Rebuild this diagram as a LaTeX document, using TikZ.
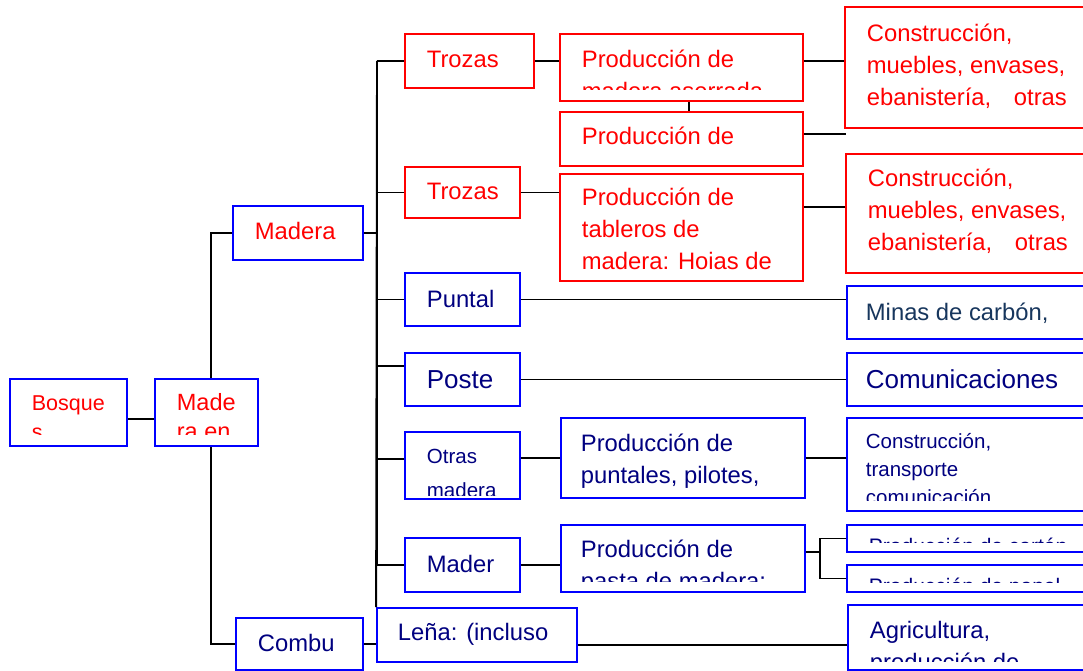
\documentclass[tikz,border=0pt]{standalone}
\usepackage{fontspec}
\setmainfont{Liberation Sans}
\definecolor{boxblue}{RGB}{0,0,255}
\definecolor{boxred}{RGB}{255,0,0}
\definecolor{txnavy}{RGB}{0,0,128}
\definecolor{txslate}{RGB}{23,54,93}
\newcommand{\fA}{\fontsize{23.8}{32}\selectfont}
\newcommand{\fB}{\fontsize{21.5}{29}\selectfont}
\newcommand{\fG}{\fontsize{23.5}{29}\selectfont}
\newcommand{\fC}{\fontsize{26}{32}\selectfont}
\newcommand{\fD}{\fontsize{20.5}{34}\selectfont}
\newcommand{\fE}{\fontsize{20.5}{28}\selectfont}
\newcommand{\fF}{\fontsize{21}{30}\selectfont}
\tikzset{
  lcol/.code={\def\lcol{#1}},
  lfont/.code={\def\lfont{#1}},
  lcut/.code={\def\lcut{#1}},
  lbase/.code={\def\lbase{#1}},
  lpad/.code={\def\lpad{#1}},
  txt/.style={path picture={\begin{scope}
    \clip ([yshift=\lcut]path picture bounding box.south west) rectangle (path picture bounding box.north east);
    \node[anchor=base west,inner sep=0pt,text=\lcol,font=\lfont,draw=none,fill=none,
      minimum width=0pt,minimum height=0pt,path picture={}]
      at ([xshift=\lpad,yshift=-\lbase]path picture bounding box.north west)
      {\begin{tabular}[t]{@{}l@{}}#1\end{tabular}};
    \end{scope}}},
  rbox/.style={draw=boxred,line width=1.8pt,fill=white,inner sep=0pt,
    lcol=boxred,lfont=\fA,lcut=11pt,lbase=32pt,lpad=21pt},
  bbox/.style={draw=boxblue,line width=1.8pt,fill=white,inner sep=0pt,
    lcol=txnavy,lfont=\fA,lcut=11pt,lbase=32pt,lpad=21pt},
  link/.style={black,line width=1.9pt}
}
\begin{document}
\begin{tikzpicture}[x=1pt,y=-1pt]
\useasboundingbox (0,0) rectangle (1083,671);
% left part
\node[bbox,lcol=boxred,lfont=\fB,minimum width=117pt,minimum height=67pt,lbase=31pt,lcut=12pt,txt={Bosque\\s}] (bosq) at (68.5,412.5) {};
\node[bbox,lcol=boxred,minimum width=130pt,minimum height=54pt,lbase=33pt,txt={Madera}] (madera) at (298,233) {};
\node[bbox,minimum width=127pt,minimum height=52pt,lbase=33pt,txt={Combu}] (combu) at (299.5,644) {};
\draw[link] (madera.west) -- ++(-21,0) |- (combu.west);
\node[bbox,lcol=boxred,lfont=\fG,minimum width=103pt,minimum height=67pt,lbase=31pt,lcut=12pt,txt={Made\\ra en}] (maden) at (206.5,412.5) {};
% red branch
\node[rbox,minimum width=129pt,minimum height=54pt,lbase=34pt,txt={Trozas}] (troz1) at (469.5,61) {};
\node[rbox,minimum width=115pt,minimum height=51pt,lbase=32pt,txt={Trozas}] (troz2) at (462.5,192.5) {};
\node[rbox,minimum width=243pt,minimum height=67pt,lbase=34pt,txt={Producción de\\madera aserrada}] (prodas) at (681.5,67.5) {};
\node[rbox,minimum width=243pt,minimum height=54pt,lbase=33pt,txt={Producción de}] (prodch) at (681.5,139) {};
\node[rbox,minimum width=243pt,minimum height=107pt,lbase=31pt,txt={Producción de\\tableros de\\madera: Hoias de}] (prodtab) at (681.5,227.5) {};
\node[rbox,minimum width=250pt,minimum height=121pt,lbase=35pt,txt={Construcción,\\muebles, envases,\\\makebox[200pt][s]{ebanistería, otras}}] (cons1) at (970,67.5) {};
\node[rbox,minimum width=249pt,minimum height=119pt,lbase=32pt,txt={Construcción,\\muebles, envases,\\\makebox[200pt][s]{ebanistería, otras}}] (cons2) at (970.5,213.5) {};
% blue branch
\node[bbox,minimum width=115pt,minimum height=53pt,lbase=34pt,txt={Puntal}] (puntal) at (462.5,299.5) {};
\node[bbox,lcol=txslate,minimum width=248pt,minimum height=53pt,lbase=34pt,lpad=18pt,txt={Minas de carbón,}] (minas) at (971,312.5) {};
\node[bbox,lfont=\fC,minimum width=115pt,minimum height=53pt,lbase=35pt,txt={Poste}] (poste) at (462.5,379.5) {};
\node[bbox,lfont=\fC,minimum width=248pt,minimum height=53pt,lbase=35pt,lpad=18pt,txt={Comunicaciones}] (comun) at (971,379.5) {};
\node[bbox,lfont=\fD,minimum width=115pt,minimum height=67pt,lbase=31pt,lcut=4pt,txt={Otras\\madera}] (otras) at (462.5,465.5) {};
\node[bbox,minimum width=244pt,minimum height=80pt,lbase=33.5pt,lcut=10pt,lpad=19pt,txt={Producción de\\puntales, pilotes,}] (prodpu) at (683,458) {};
\node[bbox,lfont=\fE,minimum width=248pt,minimum height=93pt,lbase=30pt,lpad=18pt,txt={Construcción,\\transporte\\comunicación}] (constr) at (971,464.5) {};
\node[bbox,minimum width=115pt,minimum height=54pt,lbase=34pt,txt={Mader}] (mader) at (462.5,565) {};
\node[bbox,minimum width=244pt,minimum height=67pt,lbase=32pt,lpad=19pt,txt={Producción de\\pasta de madera:}] (prodpa) at (683,558.5) {};
\node[bbox,lfont=\fF,minimum width=248pt,minimum height=27pt,lbase=28pt,lcut=10pt,txt={Producción de cartón}] (carton) at (971,538.5) {};
\node[bbox,lfont=\fF,minimum width=248pt,minimum height=27pt,lbase=28pt,lcut=10pt,txt={Producción de papel}] (papel) at (971,578.5) {};
\node[bbox,minimum width=200pt,minimum height=54pt,lbase=32pt,lpad=20pt,txt={Leña: (incluso}] (lena) at (477,635) {};
\node[bbox,minimum width=247pt,minimum height=65pt,lbase=33pt,lcut=9pt,txt={Agricultura,\\producción de}] (agric) at (971.5,637.5) {};
% connectors
\coordinate (trtop) at (377,61);
\coordinate (chend) at (846,134);
\draw[link] ([yshift=-6.5pt]bosq.east) -- ([yshift=-6.5pt]maden.west);
\draw[link] (trtop) -- (lena.north west);
\draw[link] (trtop) -- (troz1.west);
\draw[link] (madera.east) -| (trtop);
\draw[link] (troz2.west) -| (trtop);
\draw[link] (puntal.west) -| (trtop);
\draw[link] ([yshift=13.5pt]poste.west) -| (trtop);
\draw[link] ([yshift=6.5pt]otras.west) -| (trtop);
\draw[link] (mader.west) -| (trtop);
\draw[link] (combu.east) -- (combu.east -| lena.west);
\draw[link] (troz1.east) -- (troz1.east -| prodas.west);
\draw[link] ([xshift=7.5pt]prodas.south) -- ([xshift=7.5pt]prodch.north);
\draw[link] (troz1.east -| prodas.east) -- (troz1.east -| cons1.west);
\draw[link] (chend -| prodch.east) -- (chend);
\draw[link] (troz2.east) -- (troz2.east -| prodtab.west);
\draw[link] ([yshift=20.5pt]prodtab.east) -- ([yshift=6.5pt]cons2.west);
\draw[link] (puntal.east) -- (puntal.east -| minas.west);
\draw[link] (poste.east) -- (comun.west);
\draw[link] (prodpu.west -| otras.east) -- (prodpu.west);
\draw[link] (prodpu.east) -- (prodpu.east -| constr.west);
\draw[link] (mader.east) -- (mader.east -| prodpa.west);
\draw[link] ([yshift=6.5pt]prodpa.east) -- ++(14,0) coordinate (fork);
\draw[link] (carton.west) -| (fork) |- (papel.west);
\draw[link] ([yshift=-10pt]lena.east) -- ([yshift=-7.5pt]agric.west);
\end{tikzpicture}
\end{document}
